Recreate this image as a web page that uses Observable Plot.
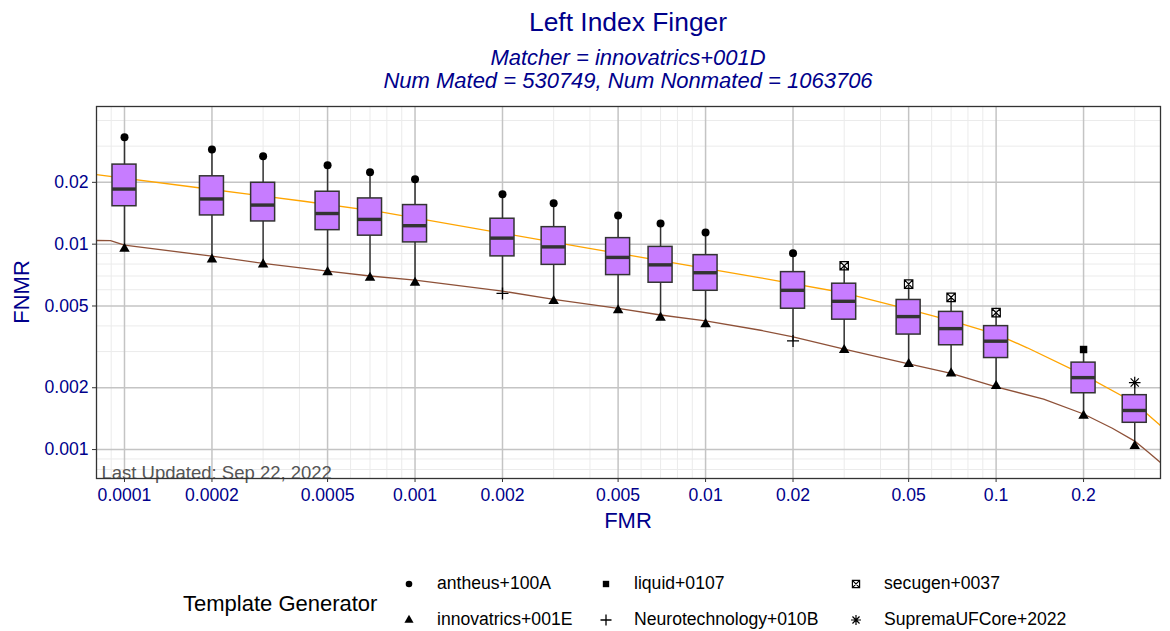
<!DOCTYPE html>
<html><head><meta charset="utf-8">
<script src="https://cdn.jsdelivr.net/npm/d3@7"></script>
<script src="https://cdn.jsdelivr.net/npm/@observablehq/plot@0.6"></script>
<style>
body{margin:0;background:#fff;font-family:"Liberation Sans",Arial,Helvetica,sans-serif;}
#wrap{position:relative;width:1170px;height:631px;overflow:hidden;background:#fff;}
.abs{position:absolute;white-space:nowrap;line-height:1;}
</style></head><body><div id="wrap"></div>
<script>
// ---------- data ----------
const titleText = "Left Index Finger";
const subtitle1 = "Matcher = innovatrics+001D";
const subtitle2 = "Num Mated = 530749, Num Nonmated = 1063706";
const xLabel = "FMR";
const yLabel = "FNMR";
const caption = "Last Updated: Sep 22, 2022";
const legendTitle = "Template Generator";

const fmr = [0.0001,0.0002,0.0003,0.0005,0.0007,0.001,0.002,0.003,0.005,0.007,0.01,0.02,0.03,0.05,0.07,0.1,0.2,0.3];
const upperFnmr = [0.0332,0.0289,0.0268,0.0242,0.0224,0.0207,0.0175,0.0158,0.0138,0.0126,0.0114,0.00904,0.00785,0.00639,0.00551,0.00464,0.00307,0.00212];
const q3Fnmr = [0.0244,0.0214,0.0199,0.0180,0.0167,0.0155,0.0133,0.0121,0.0107,0.0097,0.00884,0.00731,0.00642,0.00535,0.00468,0.00399,0.00265,0.00184];
const medianFnmr = [0.01855,0.0166,0.0155,0.0141,0.0132,0.0123,0.0107,0.0097,0.00862,0.00793,0.00726,0.00596,0.00527,0.00444,0.00388,0.00337,0.00224,0.00155];
const q1Fnmr = [0.0153,0.0138,0.0129,0.0117,0.0110,0.0102,0.00872,0.00793,0.00707,0.00649,0.00593,0.00485,0.00429,0.00363,0.00322,0.00279,0.00188,0.00135];
const lowerFnmr = [0.00949,0.00843,0.00797,0.00731,0.00686,0.00649,0.00576,0.00529,0.00477,0.00439,0.00408,0.00338,0.00305,0.00261,0.00235,0.00204,0.00146,0.00104];
const upperGen = ["antheus+100A","antheus+100A","antheus+100A","antheus+100A","antheus+100A","antheus+100A","antheus+100A","antheus+100A","antheus+100A","antheus+100A","antheus+100A","antheus+100A","secugen+0037","secugen+0037","secugen+0037","secugen+0037","liquid+0107","SupremaUFCore+2022"];
const lowerGen = ["innovatrics+001E","innovatrics+001E","innovatrics+001E","innovatrics+001E","innovatrics+001E","innovatrics+001E","Neurotechnology+010B","innovatrics+001E","innovatrics+001E","innovatrics+001E","innovatrics+001E","Neurotechnology+010B","innovatrics+001E","innovatrics+001E","innovatrics+001E","innovatrics+001E","innovatrics+001E","innovatrics+001E"];

const orangeFmr = [0.0000801,0.0001827,0.000414,0.000761,0.003713,0.01546,0.0299,0.05,0.0703,0.1005,0.128,0.2,0.2975,0.368];
const orangeFnmr = [0.02179,0.01877,0.01618,0.01435,0.00970,0.00686,0.00580,0.00482,0.00423,0.00364,0.00313,0.00231,0.00170,0.00131];
const brownFmr = [0.0000801,0.0000895,0.0001,0.0002,0.0003,0.0005,0.0007,0.001,0.002,0.003,0.005,0.007,0.01,0.01546,0.02,0.03,0.05,0.07,0.1,0.1457,0.2,0.2512,0.3,0.335,0.368];
const brownFnmr = [0.01042,0.01040,0.00989,0.00874,0.00806,0.00740,0.00700,0.00669,0.00591,0.00539,0.00487,0.00452,0.00423,0.00381,0.00354,0.00308,0.00261,0.00235,0.00202,0.00176,0.00149,0.00127,0.00110,0.000967,0.000865];

const xTicks = [0.0001,0.0002,0.0005,0.001,0.002,0.005,0.01,0.02,0.05,0.1,0.2];
const xTickLabels = ["0.0001","0.0002","0.0005","0.001","0.002","0.005","0.01","0.02","0.05","0.1","0.2"];
const yTicks = [0.001,0.002,0.005,0.01,0.02];
const yTickLabels = ["0.001","0.002","0.005","0.01","0.02"];
const xDomain = [0.0000801, 0.368];
const yDomain = [0.000723, 0.0468];

const legendGenerators = ["antheus+100A","innovatrics+001E","liquid+0107","Neurotechnology+010B","secugen+0037","SupremaUFCore+2022"];

// ---------- layout / style ----------
const W = 1170, H = 631, mL = 96, mR = 10, mT = 106, mB = 153;
const FONT = '"Liberation Sans", Arial, Helvetica, sans-serif';
const BLUE = "#00008B";
const pxPerLog = (W - mL - mR) / (Math.log10(xDomain[1]) - Math.log10(xDomain[0]));
const k = Math.pow(10, 12 / pxPerLog); // half box width in log units

// custom symbols
const sqX = {draw(c, s){ const r = Math.sqrt(s/Math.PI); c.moveTo(-r,-r); c.lineTo(r,-r); c.lineTo(r,r); c.lineTo(-r,r); c.closePath(); c.moveTo(-r,-r); c.lineTo(r,r); c.moveTo(r,-r); c.lineTo(-r,r);} };
const star8 = {draw(c, s){ const r = Math.sqrt(s/Math.PI); const d = r*Math.SQRT1_2; c.moveTo(-r,0); c.lineTo(r,0); c.moveTo(0,-r); c.lineTo(0,r); c.moveTo(-d,-d); c.lineTo(d,d); c.moveTo(-d,d); c.lineTo(d,-d);} };
const plus = {draw(c, s){ const r = Math.sqrt(s/Math.PI); c.moveTo(-r,0); c.lineTo(r,0); c.moveTo(0,-r); c.lineTo(0,r);} };
const symStyle = {
  "antheus+100A": {symbol: d3.symbolCircle, fill: "black", stroke: "none", r: 4.0, lr: 3.3},
  "innovatrics+001E": {symbol: d3.symbolTriangle, fill: "black", stroke: "none", r: 3.9, lr: 3.4},
  "liquid+0107": {symbol: d3.symbolSquare, fill: "black", stroke: "none", r: 4.2, lr: 3.6},
  "Neurotechnology+010B": {symbol: plus, fill: "none", stroke: "black", r: 6, lr: 5.5, sw: 1.3},
  "secugen+0037": {symbol: sqX, fill: "none", stroke: "black", r: 4.2, lr: 3.6, sw: 1.2},
  "SupremaUFCore+2022": {symbol: star8, fill: "none", stroke: "black", r: 5.8, lr: 5, sw: 1.2}
};

// ---------- tables ----------
const boxes = fmr.map((f, i) => ({fmr: f, upper: upperFnmr[i], q3: q3Fnmr[i], median: medianFnmr[i], q1: q1Fnmr[i], lower: lowerFnmr[i]}));
const pts = fmr.map((f, i) => ({fmr: f, v: upperFnmr[i], gen: upperGen[i]}))
  .concat(fmr.map((f, i) => ({fmr: f, v: lowerFnmr[i], gen: lowerGen[i]})));
const orange = orangeFmr.map((f, i) => ({fmr: f, fnmr: orangeFnmr[i]}));
const brown = brownFmr.map((f, i) => ({fmr: f, fnmr: brownFnmr[i]}));
const xTickRows = xTicks.map((t, i) => ({t, label: xTickLabels[i]}));
const yTickRows = yTicks.map((t, i) => ({t, label: yTickLabels[i]}));

// minor grid (integer multiples per decade, excluding labelled ones)
const xMinor = [], yMinor = [];
for (let e = -6; e <= 0; e++) for (let m = 1; m <= 9; m++) {
  const v = +(m * Math.pow(10, e)).toPrecision(6);
  if (v > xDomain[0] && v < xDomain[1] && !xTicks.some(t => Math.abs(t - v) / t < 1e-9)) xMinor.push(v);
  if (v > yDomain[0] && v < yDomain[1] && !yTicks.some(t => Math.abs(t - v) / t < 1e-9)) yMinor.push(v);
}

const dotMarks = Object.entries(symStyle).map(([g, s]) =>
  Plot.dot(pts.filter(p => p.gen === g), {x: "fmr", y: "v", symbol: () => s.symbol, r: s.r, fill: s.fill, stroke: s.stroke, strokeWidth: s.sw || 1})
);

const chart = Plot.plot({
  width: W, height: H,
  marginTop: mT, marginBottom: mB, marginLeft: mL, marginRight: mR,
  x: {type: "log", domain: xDomain},
  y: {type: "log", domain: yDomain},
  symbol: {type: "identity"},
  style: {fontFamily: FONT, fontSize: "17.6px", background: "transparent", overflow: "visible"},
  marks: [
    Plot.ruleX(xMinor, {stroke: "#ebebeb", strokeWidth: 1}),
    Plot.ruleY(yMinor, {stroke: "#ebebeb", strokeWidth: 1}),
    Plot.ruleX(xTicks, {stroke: "#c4c4c4", strokeWidth: 1.5}),
    Plot.ruleY(yTicks, {stroke: "#c4c4c4", strokeWidth: 1.5}),
    Plot.line(orange, {x: "fmr", y: "fnmr", stroke: "#FFA500", strokeWidth: 1.3, clip: true}),
    Plot.line(brown, {x: "fmr", y: "fnmr", stroke: "#8E5138", strokeWidth: 1.3, clip: true}),
    Plot.ruleX(boxes, {x: "fmr", y1: "lower", y2: "upper", stroke: "#333333", strokeWidth: 1.5}),
    Plot.rect(boxes, {x1: d => d.fmr / k, x2: d => d.fmr * k, y1: "q1", y2: "q3", fill: "#C77CFF", stroke: "#333333", strokeWidth: 1.5}),
    Plot.ruleY(boxes, {y: "median", x1: d => d.fmr / k, x2: d => d.fmr * k, stroke: "#333333", strokeWidth: 3.4}),
    ...dotMarks,
    Plot.text([caption], {text: d => d, frameAnchor: "bottom-left", textAnchor: "start", lineAnchor: "bottom", dx: 5, dy: 0, fill: "#555555", fontSize: 18.5}),
    Plot.frame({stroke: "#333333", strokeWidth: 1.3}),
    Plot.axisX({ticks: xTicks, tickSize: 4, stroke: "#333333", fill: "none", label: null}),
    Plot.axisY({ticks: yTicks, tickSize: 4, stroke: "#333333", fill: "none", label: null}),
    Plot.text(xTickRows, {x: "t", text: "label", frameAnchor: "bottom", lineAnchor: "top", dy: 10, fill: BLUE, fontSize: 17.6}),
    Plot.text(yTickRows, {y: "t", text: "label", frameAnchor: "left", textAnchor: "end", dx: -8, fill: BLUE, fontSize: 17.6})
  ]
});

const wrap = document.getElementById("wrap");
chart.style.position = "absolute"; chart.style.left = "0px"; chart.style.top = "0px";
wrap.appendChild(chart);

function addText(txt, x, y, opts = {}) {
  const d = document.createElement("div");
  d.className = "abs";
  d.textContent = txt;
  d.style.left = x + "px"; d.style.top = y + "px";
  d.style.fontSize = (opts.size || 22) + "px";
  d.style.color = opts.color || "black";
  if (opts.italic) d.style.fontStyle = "italic";
  d.style.transform = opts.transform || "translate(-50%,-50%)";
  wrap.appendChild(d);
  return d;
}
const cx = mL + (W - mL - mR) / 2;
addText(titleText, cx, 22, {size: 26.4, color: BLUE});
addText(subtitle1, cx, 58, {size: 22, color: BLUE, italic: true});
addText(subtitle2, cx, 81, {size: 22, color: BLUE, italic: true});
addText(xLabel, cx, 521, {size: 22, color: BLUE});
addText(yLabel, 22, (mT + H - mB) / 2, {size: 22, color: BLUE, transform: "translate(-50%,-50%) rotate(-90deg)"});

// legend
addText(legendTitle, 183, 604, {size: 22, transform: "translate(0,-50%)"});
const colX = [409, 606, 856], rowY = [584, 620];
legendGenerators.forEach((g, i) => {
  const col = Math.floor(i / 2), row = i % 2;
  const s = symStyle[g];
  const sx = colX[col], sy = rowY[row];
  const svg = d3.select(wrap).append("svg").attr("width", 20).attr("height", 20)
    .style("position", "absolute").style("left", (sx - 10) + "px").style("top", (sy - 10) + "px");
  svg.append("path").attr("transform", "translate(10,10)")
    .attr("d", d3.symbol(s.symbol, Math.PI * s.lr * s.lr)())
    .attr("fill", s.fill).attr("stroke", s.stroke).attr("stroke-width", s.sw || 1);
  addText(g, sx + 28, sy, {size: 17.6, transform: "translate(0,-50%)"});
});
</script>
</body></html>
